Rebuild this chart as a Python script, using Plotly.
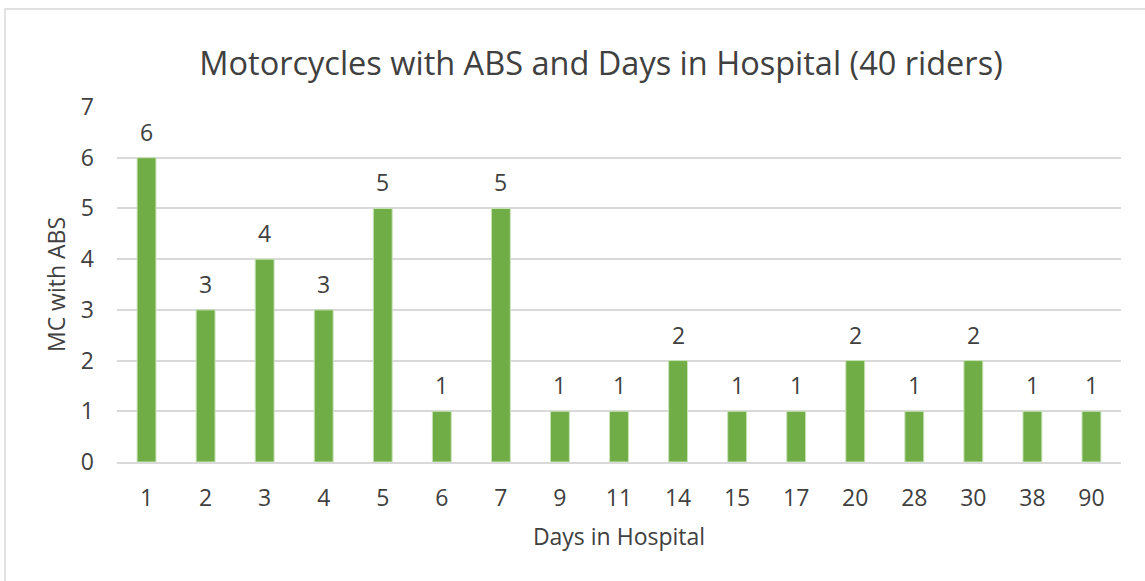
import plotly.graph_objects as go

days = ["1", "2", "3", "4", "5", "6", "7", "9", "11", "14", "15", "17", "20", "28", "30", "38", "90"]
mc_with_abs = [6, 3, 4, 3, 5, 1, 5, 1, 1, 2, 1, 1, 2, 1, 2, 1, 1]
y_ticks = [0, 1, 2, 3, 4, 5, 6, 7]

W, H = 1145, 581
L, R, T, B = 117, 24, 107, 119
pw, ph = W - L - R, H - T - B

def px_x(p):
    return (p - L) / pw

def px_y(p):
    return (H - B - p) / ph

font = "Open Sans, sans-serif"
txt = "#404040"
fs = 23

fig = go.Figure(go.Bar(
    x=days, y=mc_with_abs,
    marker=dict(color="#70AD47", line=dict(color="#C9E3B9", width=1)),
))

for i, v in enumerate(mc_with_abs):
    fig.add_annotation(x=i, y=v, text=str(v), showarrow=False, yanchor="middle",
                       yshift=26, font=dict(family=font, size=fs, color=txt))

fig.update_layout(
    width=W, height=H,
    margin=dict(l=L, r=R, t=T, b=B),
    paper_bgcolor="white", plot_bgcolor="white",
    bargap=0.68,
    showlegend=False,
    title=dict(text="Motorcycles with ABS and Days in Hospital (40 riders)",
               xref="container", x=601 / W, xanchor="center", y=1 - 64 / H, yanchor="middle",
               font=dict(family=font, size=32.5, color=txt)),
    xaxis=dict(type="category", categoryorder="array", categoryarray=days,
               range=[-0.5, len(days) - 0.5],
               showgrid=False, showline=True, linecolor="#D9D9D9", linewidth=2,
               ticks="", tickfont=dict(family=font, size=fs, color=txt), ticklabelstandoff=14,
               title=dict(text="Days in Hospital", font=dict(family=font, size=fs, color=txt), standoff=17)),
    yaxis=dict(range=[0, 7], tickvals=y_ticks, showgrid=True, gridcolor="#D9D9D9", gridwidth=1.5,
               zeroline=False, showline=False, ticks="",
               tickfont=dict(family=font, size=fs, color=txt), ticklabelstandoff=22,
               title=dict(text="MC with ABS", font=dict(family=font, size=fs, color=txt), standoff=8)),
    shapes=[dict(type="rect", xref="paper", yref="paper",
                 x0=px_x(5), x1=px_x(1160), y0=px_y(600), y1=px_y(9),
                 line=dict(color="#D9D9D9", width=1.5), layer="below")],
)

fig.write_html("out.html", config={"displayModeBar": False},
               post_script="document.body.style.margin='0';")
